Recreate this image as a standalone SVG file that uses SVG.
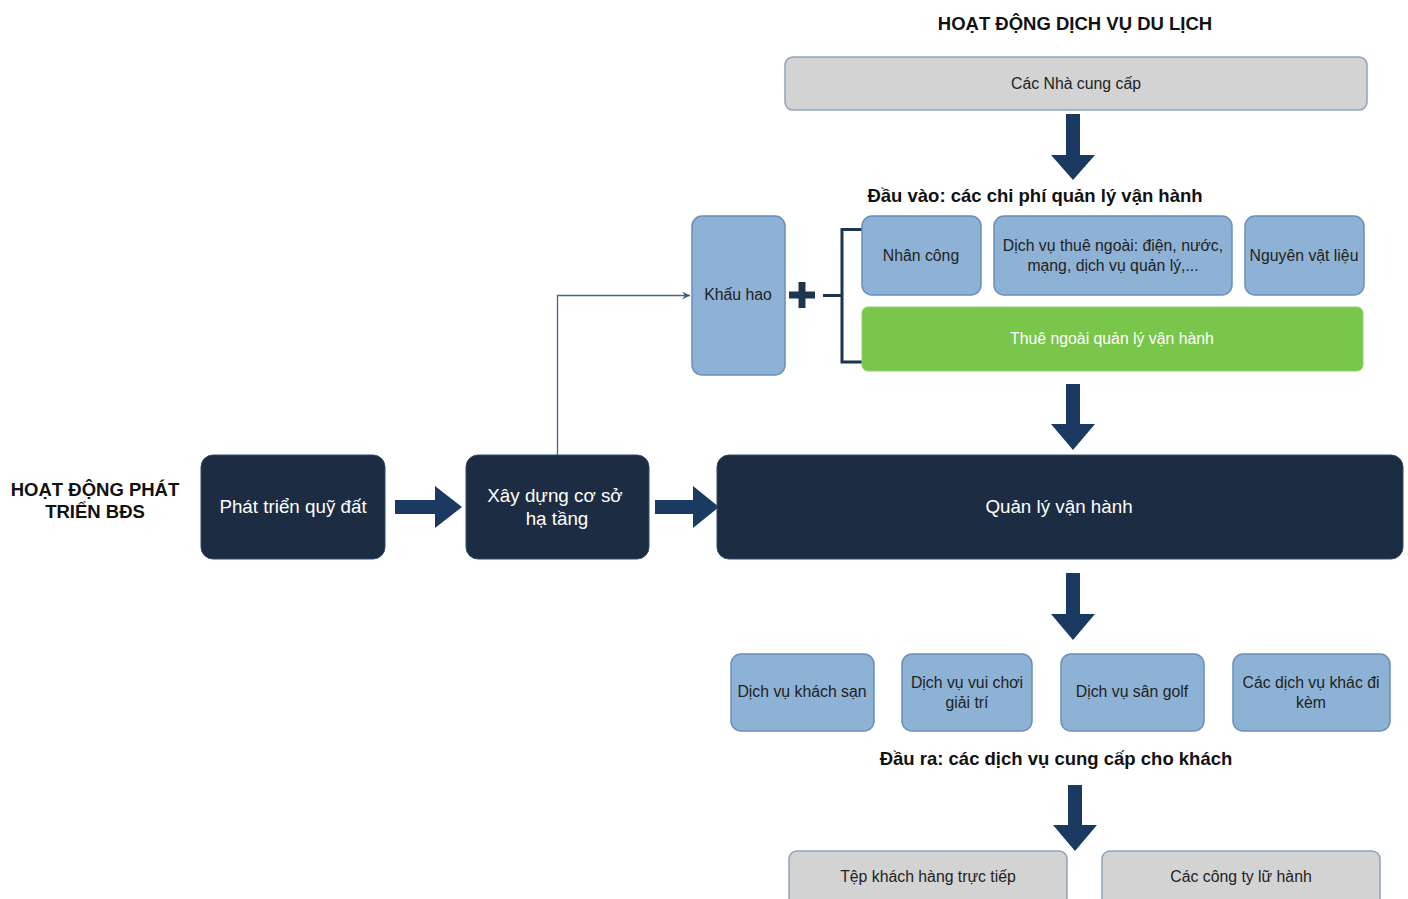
<svg xmlns="http://www.w3.org/2000/svg" width="1408" height="899" viewBox="0 0 1408 899">
<defs>
<style>
.h{font-family:"Liberation Sans",Arial,sans-serif;font-weight:bold;font-size:18.5px;fill:#111;text-anchor:middle;}
.gray{fill:#d3d3d3;stroke:#8ea2bb;stroke-width:1.5;}
.blue{fill:#8db2d6;stroke:#6b8fb6;stroke-width:1.5;}
.dark{fill:#1c2c42;stroke:#2f4a6a;stroke-width:1;}
.green{fill:#79c64b;stroke:#8fd06a;stroke-width:1;}
.lt{font-family:"Liberation Sans",Arial,sans-serif;font-size:15.8px;fill:#222;text-anchor:middle;}
.wt{font-family:"Liberation Sans",Arial,sans-serif;font-size:18.8px;fill:#fff;text-anchor:middle;}
.gt{font-family:"Liberation Sans",Arial,sans-serif;font-size:15.8px;fill:#fff;text-anchor:middle;}
.arr{fill:#1b3a62;}
</style>
<marker id="m" markerWidth="10" markerHeight="10" refX="9" refY="5" orient="auto" markerUnits="userSpaceOnUse">
<path d="M1,1 L9,5 L1,9 L4,5 Z" fill="#3c5878"/>
</marker>
</defs>
<rect width="1408" height="899" fill="#fff"/>

<text class="h" x="1075" y="30">HOẠT ĐỘNG DỊCH VỤ DU LỊCH</text>
<text class="h" x="1035" y="202">Đầu vào: các chi phí quản lý vận hành</text>
<text class="h" x="1056" y="765">Đầu ra: các dịch vụ cung cấp cho khách</text>
<text class="h" x="95" y="496">HOẠT ĐỘNG PHÁT</text>
<text class="h" x="95" y="518">TRIỂN BĐS</text>

<g id="connectors">
<path class="arr" d="M1066,114 H1080 V155 H1095 L1073,180 L1051,155 H1066 Z"/>
<path class="arr" d="M1066,384 H1080 V424 H1095 L1073,450 L1051,424 H1066 Z"/>
<path class="arr" d="M1066,573 H1080 V614 H1095 L1073,640 L1051,614 H1066 Z"/>
<path class="arr" d="M1068,785 H1082 V825 H1097 L1075,851 L1053,825 H1068 Z"/>
<path class="arr" d="M395,500 H435 V486 L462,507 L435,528 V514 H395 Z"/>
<path class="arr" d="M655,500 H693 V486 L719,507 L693,528 V514 H655 Z"/>
<path d="M557.5,455 V295.5 H690" fill="none" stroke="#4a6584" stroke-width="1.3" marker-end="url(#m)"/>
<path d="M789,295 H815 M802,282 V308" stroke="#1e3550" stroke-width="7" fill="none"/>
<path d="M823,295.5 H842 M862,229.5 H842 V362 H862" stroke="#1e3550" stroke-width="3" fill="none"/>
</g>

<g id="n-supplier"><rect class="gray" x="785" y="57" width="582" height="53" rx="8"/><text class="lt" x="1076" y="89">Các Nhà cung cấp</text></g>
<g id="n-khauhao"><rect class="blue" x="692" y="216" width="93" height="159" rx="10"/><text class="lt" x="738" y="300">Khấu hao</text></g>
<g id="n-nhancong"><rect class="blue" x="862" y="216" width="119" height="79" rx="10"/><text class="lt" x="921" y="261">Nhân công</text></g>
<g id="n-dichvu"><rect class="blue" x="994" y="216" width="238" height="79" rx="10"/><text class="lt" x="1113" y="251">Dịch vụ thuê ngoài: điện, nước,</text><text class="lt" x="1113" y="271">mạng, dịch vụ quản lý,...</text></g>
<g id="n-nvl"><rect class="blue" x="1245" y="216" width="119" height="79" rx="10"/><text class="lt" x="1304" y="261">Nguyên vật liệu</text></g>
<g id="n-thuengoai"><rect class="green" x="862" y="307" width="501" height="64" rx="6"/><text class="gt" x="1112" y="344">Thuê ngoài quản lý vận hành</text></g>

<g id="n-quydat"><rect class="dark" x="201" y="455" width="184" height="104" rx="12"/><text class="wt" x="293" y="513">Phát triển quỹ đất</text></g>
<g id="n-xaydung"><rect class="dark" x="466" y="455" width="183" height="104" rx="12"/><text class="wt" x="555" y="502">Xây dựng cơ sở</text><text class="wt" x="557" y="525">hạ tầng</text></g>
<g id="n-quanly"><rect class="dark" x="717" y="455" width="686" height="104" rx="12"/><text class="wt" x="1059" y="513">Quản lý vận hành</text></g>

<g id="n-khachsan"><rect class="blue" x="731" y="654" width="143" height="77" rx="10"/><text class="lt" x="802" y="697">Dịch vụ khách sạn</text></g>
<g id="n-vuichoi"><rect class="blue" x="902" y="654" width="130" height="77" rx="10"/><text class="lt" x="967" y="688">Dịch vụ vui chơi</text><text class="lt" x="967" y="708">giải trí</text></g>
<g id="n-golf"><rect class="blue" x="1061" y="654" width="143" height="77" rx="10"/><text class="lt" x="1132" y="697">Dịch vụ sân golf</text></g>
<g id="n-khac"><rect class="blue" x="1233" y="654" width="157" height="77" rx="10"/><text class="lt" x="1311" y="688">Các dịch vụ khác đi</text><text class="lt" x="1311" y="708">kèm</text></g>

<g id="n-tep"><rect class="gray" x="789" y="851" width="278" height="60" rx="8"/><text class="lt" x="928" y="882">Tệp khách hàng trực tiếp</text></g>
<g id="n-luhanh"><rect class="gray" x="1102" y="851" width="278" height="60" rx="8"/><text class="lt" x="1241" y="882">Các công ty lữ hành</text></g>
</svg>
